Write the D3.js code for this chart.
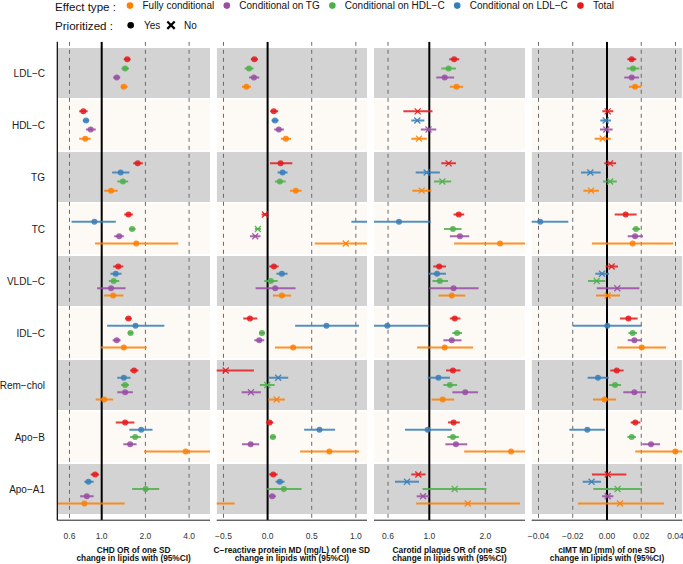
<!DOCTYPE html>
<html><head><meta charset="utf-8">
<script src="https://cdn.jsdelivr.net/npm/d3@7"></script>
<style>
body{margin:0;background:#fff}
svg{display:block}
text{font-family:"Liberation Sans",Arial,Helvetica,sans-serif}
</style>
</head><body>
<svg id="chart" width="683" height="564"></svg>
<script>
// ---------------- data ----------------
const lipids = ["LDL−C","HDL−C","TG","TC","VLDL−C","IDL−C","Rem−chol","Apo−B","Apo−A1"];
// order of rows inside each lipid block (top to bottom)
const effects = ["Total","Conditional on LDL−C","Conditional on HDL−C","Conditional on TG","Fully conditional"];
const legendEffects = ["Fully conditional","Conditional on TG","Conditional on HDL−C","Conditional on LDL−C","Total"];
const effectColors = ["#E41A1C","#377EB8","#4DAF4A","#984EA3","#FF7F00"];

// each lipid: [Total, Cond LDL-C, Cond HDL-C, Cond TG, Fully conditional] as [estimate, lower, upper]
const chd = [
  [[1.50,1.42,1.58], null, [1.45,1.37,1.54], [1.27,1.20,1.34], [1.42,1.35,1.51]],
  [[0.747,0.70,0.80], [0.78,0.74,0.82], null, [0.84,0.78,0.91], [0.77,0.70,0.84]],
  [[1.77,1.65,1.92], [1.35,1.18,1.55], [1.40,1.28,1.52], null, [1.16,1.04,1.29]],
  [[1.53,1.43,1.64], [0.89,0.62,1.25], [1.62,1.54,1.71], [1.32,1.22,1.42], [1.73,0.90,3.37]],
  [[1.30,1.20,1.41], [1.25,1.15,1.37], [1.21,1.12,1.32], [1.16,0.93,1.46], [1.20,1.04,1.41]],
  [[1.53,1.45,1.61], [1.71,1.09,2.70], [1.58,1.51,1.65], [1.27,1.19,1.35], [1.42,0.99,2.04]],
  [[1.67,1.57,1.79], [1.42,1.28,1.58], [1.45,1.36,1.54], [1.45,1.28,1.64], [1.04,0.91,1.20]],
  [[1.45,1.25,1.68], [1.87,1.55,2.24], [1.70,1.57,1.86], [1.57,1.41,1.74], [3.79,1.96,7.30]],
  [[0.90,0.84,0.96], [0.81,0.76,0.88], [2.01,1.62,2.49], [0.79,0.71,0.88], [0.76,0.40,1.44]]
];
const crp = [
  [[-0.15,-0.19,-0.11], null, [-0.21,-0.26,-0.16], [-0.155,-0.21,-0.095], [-0.24,-0.29,-0.19]],
  [[0.07,0.03,0.12], [0.083,0.045,0.125], null, [0.128,0.075,0.185], [0.207,0.15,0.265]],
  [[0.147,0.026,0.28], [0.17,0.113,0.226], [0.139,0.083,0.204], null, [0.32,0.252,0.385]],
  [[-0.03,-0.068,0.007], [1.55,0.95,2.20], [-0.11,-0.144,-0.076], [-0.14,-0.20,-0.08], [0.886,0.535,1.25]],
  [[0.071,0.018,0.124], [0.162,0.10,0.226], [0.037,-0.038,0.113], [0.086,-0.136,0.317], [0.162,0.06,0.267]],
  [[-0.20,-0.276,-0.117], [0.667,0.312,1.036], [-0.064,-0.098,-0.03], [-0.095,-0.15,-0.038], [0.29,0.083,0.50]],
  [[-0.475,-0.80,-0.155], [0.12,0.011,0.233], [-0.004,-0.087,0.079], [-0.189,-0.294,-0.076], [0.102,0.007,0.196]],
  [[0.022,-0.019,0.064], [0.588,0.414,0.765], [0.06,0.026,0.094], [-0.192,-0.29,-0.095], [0.70,0.369,1.036]],
  [[0.064,0.018,0.113], [0.139,0.09,0.192], [0.184,-0.005,0.385], [0.052,0.015,0.094], [-0.70,-1.03,-0.373]]
];
const plaque = [
  [[1.36,1.28,1.45], null, [1.27,1.16,1.39], [1.21,1.09,1.36], [1.40,1.29,1.52]],
  [[0.866,0.725,1.04], [0.862,0.80,0.94], null, [0.99,0.90,1.09], [0.88,0.80,0.97]],
  [[1.27,1.16,1.39], [0.968,0.845,1.14], [1.175,1.06,1.31], null, [0.91,0.81,1.025]],
  [[1.44,1.35,1.54], [0.687,0.45,1.02], [1.34,1.20,1.49], [1.46,1.29,1.64], [2.40,1.36,4.20]],
  [[1.13,1.05,1.23], [1.10,0.99,1.23], [1.14,1.04,1.26], [1.35,1.00,1.84], [1.32,1.12,1.56]],
  [[1.37,1.29,1.47], [0.595,0.45,1.00], [1.41,1.33,1.50], [1.32,1.19,1.49], [1.21,0.86,1.72]],
  [[1.34,1.23,1.47], [1.12,0.98,1.29], [1.29,1.19,1.41], [1.56,1.33,1.83], [1.18,1.03,1.36]],
  [[1.35,1.26,1.46], [0.98,0.74,1.32], [1.34,1.25,1.44], [1.39,1.22,1.60], [2.75,1.54,4.90]],
  [[0.873,0.80,0.955], [0.759,0.654,0.88], [1.37,0.92,2.03], [0.925,0.855,1.00], [1.61,0.85,3.07]]
];
const cimt = [
  [[0.0144,0.0119,0.0171], null, [0.0152,0.0115,0.0189], [0.0144,0.0101,0.0187], [0.0164,0.0128,0.0200]],
  [[0.0004,-0.0027,0.0037], [-0.0008,-0.0039,0.0023], null, [-0.0004,-0.0041,0.0033], [-0.0025,-0.0072,0.0022]],
  [[0.0018,-0.0016,0.0053], [-0.0097,-0.0152,-0.0037], [0.0018,-0.0023,0.0057], null, [-0.0093,-0.0138,-0.0047]],
  [[0.0109,0.0045,0.0173], [-0.039,-0.050,-0.0226], [0.0169,0.0148,0.0193], [0.0164,0.0121,0.0210], [0.0150,-0.0088,0.0387]],
  [[0.0027,-0.0008,0.0064], [-0.0029,-0.0068,0.0012], [-0.0060,-0.0111,-0.0010], [0.0060,-0.0060,0.0189], [0.0004,-0.0064,0.0076]],
  [[0.0125,0.0076,0.0179], [0.0002,-0.0200,0.0203], [0.0150,0.0125,0.0175], [0.0160,0.0121,0.0200], [0.0203,0.0060,0.0345]],
  [[0.0057,0.0019,0.0097], [-0.0053,-0.0113,0.0010], [0.0047,0.0013,0.0082], [0.0160,0.0095,0.0228], [-0.0014,-0.0082,0.0053]],
  [[0.0165,0.0138,0.0195], [-0.0115,-0.0220,-0.0012], [0.0144,0.0119,0.0169], [0.0257,0.0206,0.0310], [0.0399,0.0165,0.0620]],
  [[0.0004,-0.0088,0.0113], [-0.0090,-0.0142,-0.0035], [0.0062,-0.0080,0.0204], [0.0004,-0.0029,0.0037], [0.0076,-0.0170,0.0333]]
];
// prioritized (1 = Yes, 0 = No) per lipid
const chdPrior    = [1,1,1,1,1,1,1,1,1];
const crpPrior    = [1,1,1,0,1,1,0,1,1];
const plaquePrior = [1,0,0,1,1,1,1,1,0];
const cimtPrior   = [1,0,0,1,0,1,1,1,0];

const chdTicks = [0.6,1,2,4];
const crpTicks = [-0.5,0,0.5,1];
const plaqueTicks = [0.6,1,2];
const cimtTicks = [-0.04,-0.02,0,0.02,0.04];

const chdTitle = ["CHD OR of one SD","change in lipids with (95%CI)"];
const crpTitle = ["C−reactive protein MD (mg/L) of one SD","change in lipids with (95%CI)"];
const plaqueTitle = ["Carotid plaque OR of one SD","change in lipids with (95%CI)"];
const cimtTitle = ["cIMT MD (mm) of one SD","change in lipids with (95%CI)"];

// ---------------- layout ----------------
const svg = d3.select("#chart");
const panelTop = 41.8, panelBottom = 520.2;
const y = d3.scalePoint().domain(lipids).range([panelTop, panelBottom]).padding(0.6);
const step = y.step();
const dodgeW = 0.7 * step;
const color = d3.scaleOrdinal().domain(effects).range(effectColors);
const minus = s => s.replace("-", "−");

const panels = [
  {data: chd, prior: chdPrior, ticks: chdTicks, title: chdTitle, ref: 1,
   x: d3.scaleLog().domain([0.4945, 5.572]).range([57.3, 210]), fmt: d3.format(".1f"), leftAxis: true},
  {data: crp, prior: crpPrior, ticks: crpTicks, title: crpTitle, ref: 0,
   x: d3.scaleLinear().domain([-0.577, 1.1267]).range([216.7, 367]), fmt: d3.format(".1f")},
  {data: plaque, prior: plaquePrior, ticks: plaqueTicks, title: plaqueTitle, ref: 1,
   x: d3.scaleLog().domain([0.5043, 3.269]).range([374, 525]), fmt: d3.format(".1f")},
  {data: cimt, prior: cimtPrior, ticks: cimtTicks, title: cimtTitle, ref: 0,
   x: d3.scaleLinear().domain([-0.04397, 0.04397]).range([531.7, 682.3]), fmt: d3.format(".2f")}
];

const defs = svg.append("defs");

panels.forEach((p, pi) => {
  const [x0, x1] = p.x.range();
  const g = svg.append("g");
  const clipId = "clip" + pi;
  defs.append("clipPath").attr("id", clipId).append("rect")
    .attr("x", x0).attr("y", panelTop).attr("width", x1 - x0).attr("height", panelBottom - panelTop);
  const body = g.append("g").attr("clip-path", `url(#${clipId})`);

  // bands
  body.selectAll("rect.band").data(lipids).join("rect")
    .attr("x", x0).attr("width", x1 - x0)
    .attr("y", d => y(d) - step / 2 + 1).attr("height", step - 2)
    .attr("fill", (d, i) => i % 2 === 0 ? "#D3D3D3" : "#FDF9F5");

  // dashed lines
  body.selectAll("line.grid").data(p.ticks.filter(t => t !== p.ref)).join("line")
    .attr("x1", d => p.x(d)).attr("x2", d => p.x(d))
    .attr("y1", panelTop).attr("y2", panelBottom)
    .attr("stroke", "#6a6a6a").attr("stroke-width", 1).attr("stroke-dasharray", "4,4");

  // reference line
  body.append("line")
    .attr("x1", p.x(p.ref)).attr("x2", p.x(p.ref))
    .attr("y1", panelTop).attr("y2", panelBottom)
    .attr("stroke", "#000").attr("stroke-width", 2);

  // build items
  const items = [];
  p.data.forEach((row, li) => {
    const present = row.map((v, ei) => v ? ei : -1).filter(ei => ei >= 0);
    const n = present.length;
    present.forEach((ei, k) => {
      const v = row[ei];
      items.push({
        lipid: lipids[li], effect: effects[ei], est: v[0], lo: v[1], hi: v[2],
        prior: p.prior[li],
        yy: y(lipids[li]) + (k - (n - 1) / 2) * dodgeW / n
      });
    });
  });

  body.selectAll("line.err").data(items).join("line")
    .attr("x1", d => p.x(d.lo)).attr("x2", d => p.x(d.hi))
    .attr("y1", d => d.yy).attr("y2", d => d.yy)
    .attr("stroke", d => color(d.effect)).attr("stroke-width", 2)
    .attr("stroke-opacity", 0.85);

  body.selectAll("circle.pt").data(items.filter(d => d.prior === 1)).join("circle")
    .attr("cx", d => p.x(d.est)).attr("cy", d => d.yy).attr("r", 3)
    .attr("fill", d => color(d.effect)).attr("fill-opacity", 0.85);

  const s = 3;
  body.selectAll("path.x").data(items.filter(d => d.prior === 0)).join("path")
    .attr("d", d => {
      const cx = p.x(d.est), cy = d.yy;
      return `M${cx - s},${cy - s}L${cx + s},${cy + s}M${cx - s},${cy + s}L${cx + s},${cy - s}`;
    })
    .attr("stroke", d => color(d.effect)).attr("stroke-width", 1.3).attr("fill", "none")
    .attr("stroke-opacity", 0.9);

  // axes lines
  g.append("line").attr("x1", x0).attr("x2", x1).attr("y1", panelBottom).attr("y2", panelBottom)
    .attr("stroke", "#222").attr("stroke-width", 1);
  if (p.leftAxis) {
    g.append("line").attr("x1", x0).attr("x2", x0).attr("y1", panelTop).attr("y2", panelBottom)
      .attr("stroke", "#000").attr("stroke-width", 1.2);
  }

  // tick labels
  g.selectAll("text.tick").data(p.ticks).join("text")
    .attr("x", d => p.x(d)).attr("y", 539)
    .attr("text-anchor", "middle").attr("font-size", 8.5).attr("fill", "#333")
    .text(d => minus(p.fmt(d)));

  // titles
  const cx = (x0 + x1) / 2;
  g.selectAll("text.title").data(p.title).join("text")
    .attr("x", cx).attr("y", (d, i) => 552.5 + i * 8.6)
    .attr("text-anchor", "middle").attr("font-size", 8.3).attr("font-weight", "bold")
    .attr("fill", "#111").text(d => d);
});

// y labels
svg.selectAll("text.ylab").data(lipids).join("text")
  .attr("x", 45).attr("y", d => y(d) + 3.6)
  .attr("text-anchor", "end").attr("font-size", 10).attr("fill", "#1a1a1a")
  .text(d => d);

// ---------------- legend ----------------
const lg = svg.append("g");
lg.append("text").attr("x", 55).attr("y", 10.6).attr("font-size", 11.6).attr("fill", "#111").text("Effect type :");
let lx = 130;
legendEffects.forEach(e => {
  lg.append("circle").attr("cx", lx).attr("cy", 5.6).attr("r", 3.3).attr("fill", color(e));
  const t = lg.append("text").attr("x", lx + 12.5).attr("y", 9.2).attr("font-size", 10).attr("fill", "#111").text(e);
  lx = lx + 12.5 + t.node().getComputedTextLength() + 12.6;
});
lg.append("text").attr("x", 55).attr("y", 29.6).attr("font-size", 11.6).attr("fill", "#111").text("Prioritized :");
lg.append("circle").attr("cx", 130.7).attr("cy", 25.2).attr("r", 3.3).attr("fill", "#000");
lg.append("text").attr("x", 144).attr("y", 28.8).attr("font-size", 10).attr("fill", "#111").text("Yes");
lg.append("path").attr("d", "M167.3,21.5L174.7,28.9M167.3,28.9L174.7,21.5")
  .attr("stroke", "#000").attr("stroke-width", 2.2).attr("fill", "none");
lg.append("text").attr("x", 184).attr("y", 28.8).attr("font-size", 10).attr("fill", "#111").text("No");
</script>
</body></html>
